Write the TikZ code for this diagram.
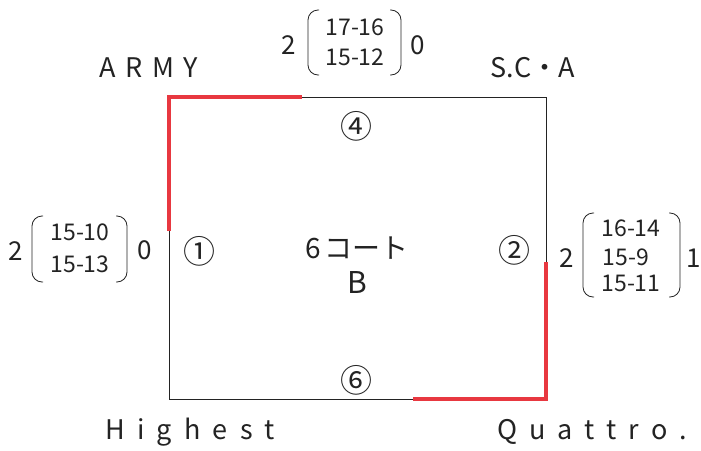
\documentclass[tikz,border=0pt]{standalone}
\usepackage{fontspec}
\newfontfamily\jp{Noto Sans CJK JP}
\newfontfamily\jpspaced[LetterSpace=35]{Noto Sans CJK JP}
\newfontfamily\jpwide[LetterSpace=45]{Noto Sans CJK JP}
\definecolor{courtred}{RGB}{232,56,64}
\definecolor{ink}{RGB}{35,35,35}
\begin{document}
\begin{tikzpicture}[x=1pt,y=-1pt,
  team/.style={font=\jpspaced\fontsize{27}{30}\selectfont, text=ink, inner sep=0pt, anchor=center},
  teamwide/.style={font=\jpwide\fontsize{27}{30}\selectfont, text=ink, inner sep=0pt, anchor=center},
  score/.style={font=\jp\fontsize{23}{28}\selectfont, text=ink, inner sep=0pt, align=center},
  outer/.style={font=\jp\fontsize{26}{30}\selectfont, text=ink, inner sep=0pt},
  circnum/.style={font=\jp\fontsize{32}{32}\selectfont, text=ink, inner sep=0pt},
  bracket/.style={draw=ink, line width=0.8pt, rounded corners=10pt},
  court/.style={draw=ink, line width=1pt},
  redline/.style={draw=courtred, line width=4.2pt}]
\useasboundingbox (0,0) rectangle (701,450);
% court
\coordinate (tl) at (169,97);
\coordinate (tr) at (546,97);
\coordinate (br) at (546,399);
\coordinate (bl) at (169,399);
\draw[court] (tl) -- (tr) -- (br) -- (bl) -- cycle;
\coordinate (redL) at (169,231);
\coordinate (redT) at (302,97);
\coordinate (redB) at (413,399);
\coordinate (redR) at (546,262);
\draw[redline, line cap=butt] (redL) -- (tl) -- (redT);
\draw[redline, line cap=butt] (redB) -- (br) -- (redR);
% team names
\node[team] (army) at (149,68) {ARMY};
\node[font=\jp\fontsize{27}{30}\selectfont, text=ink, inner sep=0pt] (sca) at (533,68) {S.C・A};
\node[teamwide] (high) at (190,432) {Highest};
\node[teamwide] (quat) at (592,432) {Quattro.};
% circled numbers
\node[circnum] (c1) at (199,251) {①};
\node[circnum] (c2) at (514,250) {②};
\node[circnum] (c4) at (356,126) {④};
\node[circnum] (c6) at (356,380) {⑥};
% center
\node[font=\jp\fontsize{28}{30}\selectfont, text=ink, inner sep=0pt] (crt) at (357,248) {6\hspace{4pt}コート};
\node[font=\jp\fontsize{30}{30}\selectfont, text=ink, inner sep=0pt] (crtB) at (357,283) {B};
% top score
\node[outer] (t2) at (289,45) {2};
\node[outer] (t0) at (418,45) {0};
\node[score] (ts1) at (355,27) {17-16};
\node[score] (ts2) at (355,57) {15-12};
\draw[bracket] (319,10) -- (308,10) -- (308,75) -- (319,75);
\draw[bracket] (390,10) -- (401,10) -- (401,75) -- (390,75);
% left score
\node[outer] (l2) at (16,251) {2};
\node[outer] (l0) at (145,250) {0};
\node[score] (ls1) at (80,232) {15-10};
\node[score] (ls2) at (80,264) {15-13};
\draw[bracket] (43,216) -- (32,216) -- (32,282) -- (43,282);
\draw[bracket] (116,216) -- (127,216) -- (127,282) -- (116,282);
% right score
\node[outer] (r2) at (567,258) {2};
\node[outer] (r1) at (694,258) {1};
\node[score] (rs1) at (631,228) {16-14};
\node[score] (rs2) at (626,257) {15-9};
\node[score] (rs3) at (631,283) {15-11};
\draw[bracket] (594,213) -- (583,213) -- (583,297) -- (594,297);
\draw[bracket] (669,213) -- (680,213) -- (680,297) -- (669,297);
\end{tikzpicture}
\end{document}
